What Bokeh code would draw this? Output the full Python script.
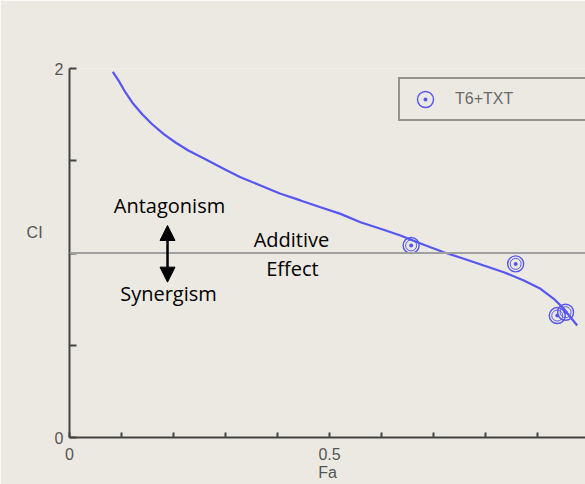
from bokeh.plotting import figure
from bokeh.models import (Range1d, FixedTicker, Span, Label, Arrow, NormalHead,
                          Legend, LegendItem)
from bokeh.embed import file_html
from bokeh.resources import INLINE

# Median-effect fit: combination index (CI) against fraction affected (Fa)
fa_curve = [0.0833, 0.0948, 0.1077, 0.1206, 0.1398, 0.1590, 0.1813, 0.2038,
            0.2294, 0.2615, 0.3000, 0.3288, 0.3673, 0.4058, 0.4442, 0.4827,
            0.5212, 0.5596, 0.5981, 0.6365, 0.6750, 0.7198, 0.7583, 0.7967,
            0.8352, 0.8737, 0.9058, 0.9313, 0.9506, 0.9635, 0.9763]
ci_curve = [1.982, 1.933, 1.870, 1.816, 1.752, 1.698, 1.644, 1.599,
            1.554, 1.508, 1.451, 1.411, 1.366, 1.321, 1.285, 1.248,
            1.212, 1.167, 1.131, 1.095, 1.051, 1.004, 0.969, 0.932,
            0.896, 0.851, 0.806, 0.752, 0.698, 0.652, 0.607]

# Measured combination points
fa_points = [0.657, 0.858, 0.938, 0.954]
ci_points = [1.041, 0.941, 0.661, 0.679]
series_name = "T6+TXT"

x_major = [0, 0.5, 1]
x_minor = [0.1, 0.2, 0.3, 0.4, 0.6, 0.7, 0.8, 0.9]
y_major = [0, 2]
y_minor = [0.5, 1, 1.5]
additive_ci = 1

BG = "#ECE9E2"
BLUE = "#5656F0"
AXIS = "#444444"
GRAY_TXT = "#555555"

p = figure(width=585, height=484,
           x_range=Range1d(0, 0.9923), y_range=Range1d(0, 2),
           min_border_left=69, min_border_right=0,
           min_border_top=68, min_border_bottom=47,
           background_fill_color=BG, border_fill_color=BG,
           outline_line_color=None, toolbar_location=None,
           output_backend="svg")
p.grid.visible = False

# axes: ticks point into the plot area
for ax in (p.xaxis[0], p.yaxis[0]):
    ax.axis_line_color = AXIS
    ax.axis_line_width = 2
    ax.major_tick_line_color = AXIS
    ax.minor_tick_line_color = AXIS
    ax.major_tick_line_width = 2
    ax.minor_tick_line_width = 2
    ax.major_tick_out = 0
    ax.minor_tick_out = 0
    ax.major_label_text_font = "Liberation Sans"
    ax.major_label_text_font_size = "16px"
    ax.major_label_text_color = GRAY_TXT
    ax.axis_label_text_font = "Liberation Sans"
    ax.axis_label_text_font_size = "16px"
    ax.axis_label_text_font_style = "normal"
    ax.axis_label_text_color = GRAY_TXT

p.xaxis.ticker = FixedTicker(ticks=x_major, minor_ticks=x_minor)
p.xaxis.major_tick_in = 5
p.xaxis.minor_tick_in = 5
p.xaxis.major_label_standoff = 10
p.xaxis.axis_label = "Fa"
p.xaxis.axis_label_standoff = 1

p.yaxis.ticker = FixedTicker(ticks=y_major, minor_ticks=y_minor)
p.yaxis.major_tick_in = 7
p.yaxis.minor_tick_in = 7
p.yaxis.major_label_standoff = 6
p.yaxis.axis_label = "CI\n\n"
p.yaxis.axis_label_orientation = "horizontal"
p.yaxis.axis_label_standoff = 9

# additive-effect reference line
p.add_layout(Span(location=additive_ci, dimension="width",
                  line_color="#A0A0A0", line_width=2))

# fitted curve
p.line(fa_curve, ci_curve, line_color=BLUE, line_width=2.2)

# data points: double ring with a centre dot
pts = p.scatter(fa_points, ci_points, marker="circle_dot", size=16,
                fill_color=None, line_color=BLUE, line_width=1.4)
p.scatter(fa_points, ci_points, marker="circle", size=11,
          fill_color=None, line_color=BLUE, line_width=1.0)

legend = Legend(items=[LegendItem(label=series_name, renderers=[pts])],
                location=(329, 316), padding=0, margin=0,
                glyph_width=50, glyph_height=40, label_standoff=5,
                label_width=130, label_height=20,
                background_fill_color=BG, background_fill_alpha=1,
                border_line_color="#3c3c3c", border_line_width=2,
                label_text_font="Liberation Sans", label_text_font_size="16px",
                label_text_color="#6a6a6a")
p.add_layout(legend)

# annotations
ann_font = "Open Sans"
for txt, fx, fy in [("Antagonism", 0.1923, 1.2575),
                    ("Synergism", 0.1904, 0.7805),
                    ("Additive", 0.4269, 1.0732),
                    ("Effect", 0.4288, 0.916)]:
    p.add_layout(Label(x=fx, y=fy, text=txt, text_align="center",
                       text_baseline="middle", text_font=ann_font,
                       text_font_size="20px", text_color="black"))

p.add_layout(Arrow(start=NormalHead(size=15, fill_color="black", line_color="black"),
                   end=NormalHead(size=15, fill_color="black", line_color="black"),
                   x_start=0.1885, y_start=0.842, x_end=0.1885, y_end=1.149,
                   line_color="black", line_width=2.5))

open("out.html", "w").write(file_html(p, INLINE))
